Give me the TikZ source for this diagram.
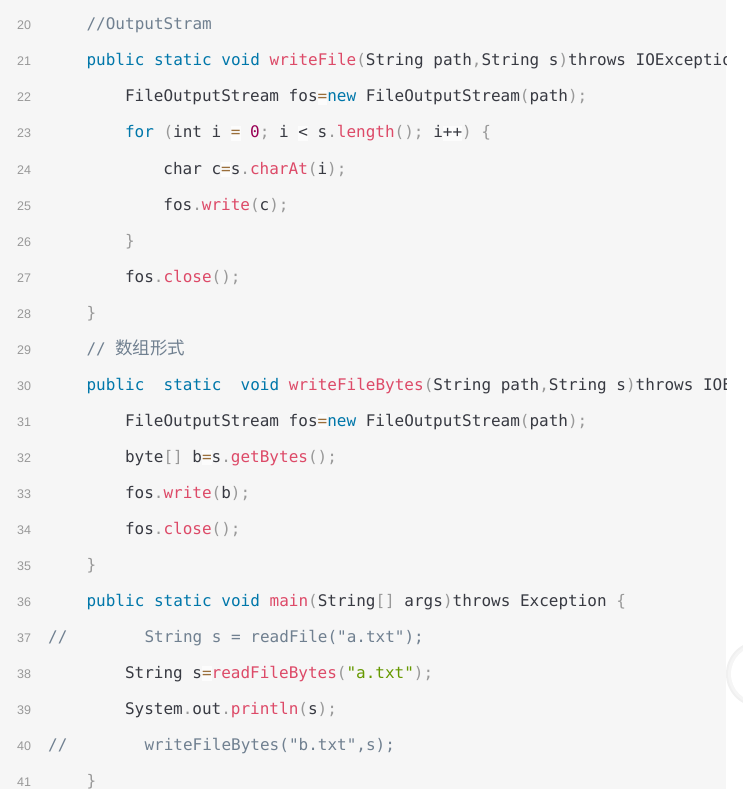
\documentclass[tikz,border=0pt]{standalone}
\usepackage{fontspec}
\usepackage{xcolor}
\newfontfamily\codefont{DejaVu Sans Mono}
\newfontfamily\lnfont{Liberation Sans}
\newfontfamily\cjk{Noto Sans CJK SC}
\definecolor{bgc}{HTML}{F6F6F6}
\definecolor{kw}{HTML}{0077AA}
\definecolor{fn}{HTML}{DD4A68}
\definecolor{st}{HTML}{669900}
\definecolor{pu}{HTML}{999999}
\definecolor{op}{HTML}{9A6E3A}
\definecolor{nu}{HTML}{990055}
\definecolor{cm}{HTML}{708090}
\definecolor{tx}{HTML}{383A42}
\definecolor{lnc}{HTML}{999999}
\definecolor{opbg}{HTML}{FCFCFC}
\newcommand\kwd[1]{\textcolor{kw}{#1}}
\newcommand\fnc[1]{\textcolor{fn}{#1}}
\newcommand\strg[1]{\textcolor{st}{#1}}
\newcommand\pnc[1]{\textcolor{pu}{#1}}
\newcommand\numb[1]{\textcolor{nu}{#1}}
\newcommand\cmt[1]{\textcolor{cm}{#1}}
\newcommand\opr[1]{{\setlength\fboxsep{0pt}\colorbox{opbg}{\textcolor{op}{\vphantom{Ay}#1}}}}
\newcommand\opd[1]{{\setlength\fboxsep{0pt}\colorbox{opbg}{\textcolor{tx}{\vphantom{Ay}#1}}}}
\tikzset{
  code/.style={anchor=base west, inner sep=0pt, font=\codefont\fontsize{16}{16}\selectfont, text=tx},
  lnum/.style={anchor=base west, inner sep=0pt, font=\lnfont\fontsize{12.5}{12.5}\selectfont, text=lnc}
}
\begin{document}
\begin{tikzpicture}[x=1pt,y=1pt]
\useasboundingbox (0,0) rectangle (742,-789);
\fill[white] (0,0) rectangle (742,-789);
\fill[bgc] (0,0) rectangle (726,-789);
% floating button at right edge
\fill[black!6] (759,-674) circle (33);
\fill[black!4] (759,-674) circle (31);
\fill[white] (759,-674) circle (28);
\begin{scope}
\clip (0,0) rectangle (726,-789);
% line numbers
\foreach \n [count=\k from 0] in {20,...,41} {
  \node[lnum] (n\n) at (17,{-30-36*\k}) {\n};
}
\def\La{86.4}
\def\Lb{124.8}
\def\Lc{163.2}
\node[code] (l20) at (\La,-30) {\cmt{//OutputStram}};
\node[code] (l21) at (\La,-66) {\kwd{public static void} \fnc{writeFile}\pnc{(}String path\pnc{,}String s\pnc{)}throws IOException \pnc{\{}};
\node[code] (l22) at (\Lb,-102) {FileOutputStream fos\opr{=}\kwd{new} FileOutputStream\pnc{(}path\pnc{);}};
\node[code] (l23) at (\Lb,-138) {\kwd{for} \pnc{(}int i \opr{=} \numb{0}\pnc{;} i \opd{<} s\pnc{.}\fnc{length}\pnc{();} i\opd{++}\pnc{)} \pnc{\{}};
\node[code] (l24) at (\Lc,-174) {char c\opr{=}s\pnc{.}\fnc{charAt}\pnc{(}i\pnc{);}};
\node[code] (l25) at (\Lc,-210) {fos\pnc{.}\fnc{write}\pnc{(}c\pnc{);}};
\node[code] (l26) at (\Lb,-246) {\pnc{\}}};
\node[code] (l27) at (\Lb,-282) {fos\pnc{.}\fnc{close}\pnc{();}};
\node[code] (l28) at (\La,-318) {\pnc{\}}};
\node[code] (l29) at (\La,-354) {\cmt{// {\cjk\fontsize{17.5}{17.5}\selectfont 数组形式}}};
\node[code] (l30) at (\La,-390) {\kwd{public}~~\kwd{static}~~\kwd{void} \fnc{writeFileBytes}\pnc{(}String path\pnc{,}String s\pnc{)}throws IOException \pnc{\{}};
\node[code] (l31) at (\Lb,-426) {FileOutputStream fos\opr{=}\kwd{new} FileOutputStream\pnc{(}path\pnc{);}};
\node[code] (l32) at (\Lb,-462) {byte\pnc{[]} b\opr{=}s\pnc{.}\fnc{getBytes}\pnc{();}};
\node[code] (l33) at (\Lb,-498) {fos\pnc{.}\fnc{write}\pnc{(}b\pnc{);}};
\node[code] (l34) at (\Lb,-534) {fos\pnc{.}\fnc{close}\pnc{();}};
\node[code] (l35) at (\La,-570) {\pnc{\}}};
\node[code] (l36) at (\La,-606) {\kwd{public static void} \fnc{main}\pnc{(}String\pnc{[]} args\pnc{)}throws Exception \pnc{\{}};
\node[code] (l37) at (48,-642) {\cmt{//~~~~~~~~String s = readFile("a.txt");}};
\node[code] (l38) at (\Lb,-678) {String s\opr{=}\fnc{readFileBytes}\pnc{(}\strg{"a.txt"}\pnc{);}};
\node[code] (l39) at (\Lb,-714) {System\pnc{.}out\pnc{.}\fnc{println}\pnc{(}s\pnc{);}};
\node[code] (l40) at (48,-750) {\cmt{//~~~~~~~~writeFileBytes("b.txt",s);}};
\node[code] (l41) at (\La,-786) {\pnc{\}}};
\end{scope}
\end{tikzpicture}
\end{document}
